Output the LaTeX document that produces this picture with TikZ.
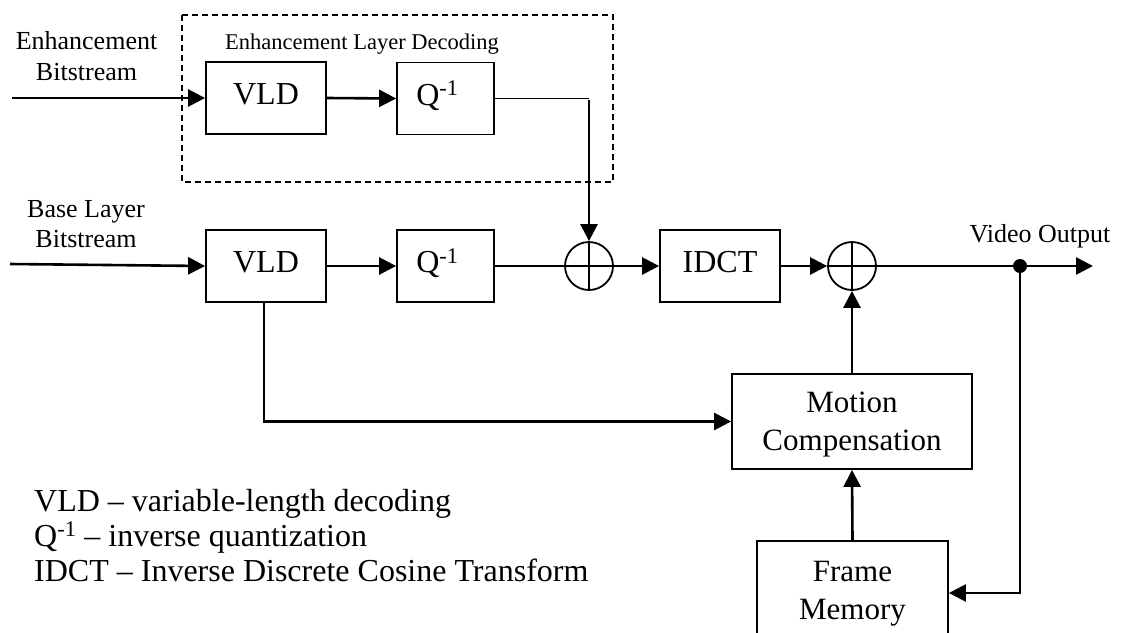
\documentclass[tikz,border=0pt]{standalone}
\usepackage{fontspec}
\setmainfont{Liberation Serif}
\usetikzlibrary{arrows.meta}

\begin{document}
\begin{tikzpicture}[x=1pt,y=-1pt,
  box/.style={draw, line width=1.8pt, inner sep=0pt,
    minimum width=120pt, minimum height=72pt,
    font=\fontsize{32}{38}\selectfont, text height=21pt, text depth=8pt},
  qbox/.style={box, minimum width=97pt},
  bigbox/.style={draw, line width=1.8pt, inner sep=0pt, align=center,
    font=\fontsize{31}{38}\selectfont, text height=58pt, text depth=0pt},
  sum/.style={circle, draw, line width=1.8pt, minimum size=48pt, inner sep=0pt},
  cross/.style={line width=1.3pt},
  flow/.style={line width=2.6pt, -{Triangle[length=17pt,width=17pt]}},
  thinline/.style={line width=1.5pt},
  lbl/.style={font=\fontsize{26}{31}\selectfont, inner sep=0pt, anchor=base},
  legend/.style={font=\fontsize{32}{35}\selectfont, inner sep=0pt, anchor=base west},
  group/.style={draw, line width=1.5pt, dash pattern=on 6pt off 4pt}
]
\clip (0,0) rectangle (1123,632);
\fill[white] (0,0) rectangle (1123,632);

% enhancement layer group
\draw[group] (182,15) rectangle (613,182);
\node[lbl] (grouptitle) at (362,49) {\fontsize{22.5}{28}\selectfont Enhancement Layer Decoding};

% side labels
\node[lbl] (el1) at (86.5,49) {Enhancement};
\node[lbl] (el2) at (86.5,80) {Bitstream};
\node[lbl] (bl1) at (86,217) {Base Layer};
\node[lbl] (bl2) at (86,247) {Bitstream};
\node[lbl] (vo) at (1040,242) {Video Output};

% blocks
\node[box] (evld) at (266,98) {VLD};
\node[qbox] (eq) at (445.5,98.5) {Q\textsuperscript{-1}\hspace*{16pt}};
\node[box] (bvld) at (266,266) {VLD};
\node[qbox] (bq) at (445.5,266) {Q\textsuperscript{-1}\hspace*{16pt}};
\node[sum] (s1) at (589,266) {};
\node[box] (idct) at (720,266) {IDCT};
\node[sum] (s2) at (852,266) {};
\node[bigbox, minimum width=240pt, minimum height=95pt] (mc) at (852,421.5) {Motion\\Compensation};
\node[bigbox, minimum width=191pt, minimum height=99pt] (fm) at (852.5,590.5) {Frame\\Memory};
\node[circle, fill, inner sep=0pt, minimum size=14pt] (dot) at (1020,266) {};

% crosses in the adders
\foreach \s in {s1,s2} {
  \draw[cross] (\s.north) -- (\s.south);
  \draw[cross] (\s.west) -- (\s.east);
}

% inputs and outputs
\coordinate (ein) at (12,98);
\coordinate (bin) at (10,264);
\coordinate (vout) at (1093,266);

% connectors
\draw[flow] (ein) -- (evld.west);
\draw[flow] (evld.east) -- (eq.west);
\draw[thinline] (eq.east) -- (eq.east -| s1.north) coordinate (ecorner);
\draw[flow] ([yshift=-1pt]ecorner) -- (s1.north);

\draw[flow] (bin) -- (bvld.west);
\draw[flow] (bvld.east) -- (bq.west);
\draw[thinline] (bq.east) -- (s1.west);
\draw[flow] (s1.east) -- (idct.west);
\draw[flow] (idct.east) -- (s2.west);
\draw[flow] (s2.east) -- (vout);

\draw[flow] (bvld.south) ++(-2pt,0) |- (mc.west);
\draw[flow] (mc.north) -- (s2.south);
\draw[flow] (fm.north) -- (mc.south);
\draw[flow] (dot.center) |- ([yshift=-2.5pt]fm.east);

% legend
\node[legend] (lg1) at (34,511) {VLD – variable-length decoding};
\node[legend] (lg2) at (34,546) {Q\textsuperscript{-1} – inverse quantization};
\node[legend] (lg3) at (34,581) {IDCT – Inverse Discrete Cosine Transform};
\end{tikzpicture}
\end{document}
